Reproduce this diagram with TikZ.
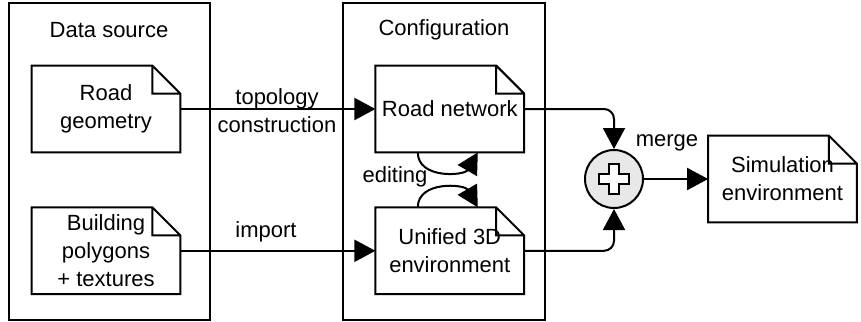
\documentclass[tikz,border=0pt]{standalone}
\usepackage{fontspec}
\setmainfont{Liberation Sans}
\usetikzlibrary{positioning, arrows.meta, calc}

\begin{document}
\begin{tikzpicture}[
    x=0.5pt, y=-0.5pt,
    node distance=27.5pt and 97.5pt,
    every node/.style={font=\fontsize{11}{14}\selectfont, align=center},
    frame/.style={draw, line width=1pt, minimum width=100.5pt, minimum height=158.5pt},
    docbox/.style={minimum width=74pt, minimum height=43pt, inner sep=2pt,
        append after command={\pgfextra{\draw[line width=1pt, line join=miter]
            (\tikzlastnode.south west) -- (\tikzlastnode.north west)
            -- ([xshift=-14pt]\tikzlastnode.north east)
            -- ([yshift=-14pt]\tikzlastnode.north east)
            -- (\tikzlastnode.south east) -- cycle
            ([xshift=-14pt]\tikzlastnode.north east) |- ([yshift=-14pt]\tikzlastnode.north east);}}},
    mergenode/.style={circle, draw, line width=1pt, fill=black!9, minimum size=29pt, inner sep=0pt,
        path picture={\draw[line width=0.8pt, fill=white, shift={(path picture bounding box.center)}]
            (-2.5pt,-7.5pt) -- (2.5pt,-7.5pt) -- (2.5pt,-2.5pt) -- (7.5pt,-2.5pt) -- (7.5pt,2.5pt)
            -- (2.5pt,2.5pt) -- (2.5pt,7.5pt) -- (-2.5pt,7.5pt) -- (-2.5pt,2.5pt) -- (-7.5pt,2.5pt)
            -- (-7.5pt,-2.5pt) -- (-2.5pt,-2.5pt) -- cycle;}},
    arrow/.style={-{Triangle[length=10.5pt, width=11pt]}, line width=1pt}
]
\useasboundingbox (0,0) rectangle (861,321);

% the two stage frames
\node[frame] (srcframe) at (109.5,161.5) {};
\node[frame, minimum width=101pt] (cfgframe) at (444,161.5) {};
\node (srctitle) at (109,30) {Data source};
\node (cfgtitle) at (444,30) {Configuration};

% documents
\node[docbox] (geo) at (106,109) {Road\\geometry};
\node[docbox, below=of geo] (bldg) {Building\\polygons\\+ textures};
\node[docbox, right=of geo] (net) {Road network};
\node[docbox, right=of bldg] (env) {Unified 3D\\environment};
\node[mergenode] (merge) at (614,179) {};
\node[docbox] (sim) at (782.5,179) {Simulation\\environment};

% edge labels
\node (topo) at (277,111) {topology\\construction};
\node (imp) at (266,232) {import};
\node (edit) at (395,177) {editing};
\node (mrg) at (667,143) {merge};

\draw[arrow] (geo) -- (net);
\draw[arrow] (bldg) -- (env);
\draw[arrow] ([xshift=-16pt]net.south) to[out=-90, in=-120, looseness=1.15] ([xshift=14pt]net.south);
\draw[arrow] ([xshift=-16pt]env.north) to[out=90, in=120, looseness=1.15] ([xshift=14pt]env.north);
\draw[arrow, rounded corners=5pt] (net) -| (merge);
\draw[arrow, rounded corners=5pt] (env) -| (merge);
\draw[arrow] (merge) -- (sim);

\end{tikzpicture}
\end{document}
